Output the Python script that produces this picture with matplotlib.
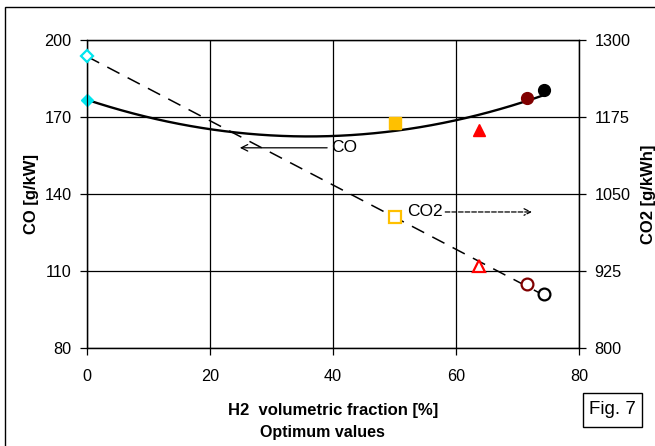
import numpy as np
import matplotlib.pyplot as plt
from matplotlib.patches import Rectangle

plt.rcParams['font.family'] = ['Liberation Sans', 'DejaVu Sans']
plt.rcParams['font.size'] = 11.7

# optimum values
h2 = [0, 50, 63.8, 71.5, 74.3]
co = [176.5, 167.7, 164.9, 177.4, 180.5]
co2 = [1274, 1013, 933, 904, 888]
colors = ['#00e5ee', '#ffc000', '#ff0000', '#800000', '#000000']
markers = ['D', 's', '^', 'o', 'o']

fig = plt.figure(figsize=(6.55, 4.46), dpi=100)
ax = fig.add_axes([0.1328, 0.2197, 0.7512, 0.6906])
ax2 = ax.twinx()

# trend lines
xs = np.linspace(0, max(h2), 200)
p_co = np.polyfit(h2, co, 2)
ax.plot(xs, np.polyval(p_co, xs), color='k', lw=1.7, zorder=3)
p_co2 = np.polyfit(h2, co2, 1)
ax2.plot(xs, np.polyval(p_co2, xs), color='k', lw=1.1, dashes=(9, 6), zorder=3)

sizes = {'D': 6.5, 's': 8.5, '^': 9, 'o': 8.5}
for x, y1, y2, c, m in zip(h2, co, co2, colors, markers):
    ax.plot(x, y1, marker=m, color=c, ms=sizes[m], ls='none', zorder=4,
            clip_on=False)
    ax2.plot(x, y2, marker=m, mfc='white', mec=c, mew=1.6, ms=sizes[m],
             ls='none', zorder=4, clip_on=False)

ax.set_xlim(0, 80)
ax.set_ylim(80, 200)
ax2.set_ylim(800, 1300)
ax.set_xticks([0, 20, 40, 60, 80])
ax.set_yticks([80, 110, 140, 170, 200])
ax2.set_yticks([800, 925, 1050, 1175, 1300])
ax.grid(True, color='k', lw=0.9)
for a in (ax, ax2):
    a.tick_params(direction='out', length=5, width=0.9, labelsize=11.7, pad=6)
    for s in a.spines.values():
        s.set_linewidth(0.9)
ax.tick_params(axis='x', pad=10)

ax.set_ylabel('CO [g/kW]', fontweight='bold', fontsize=12, labelpad=4)
ax2.set_ylabel('CO2 [g/kWh]', fontweight='bold', fontsize=12, labelpad=8)
ax.set_xlabel('H2  volumetric fraction [%]', fontweight='bold', fontsize=12,
              labelpad=14)
fig.text(0.493, 1 - 433 / 446, 'Optimum values', ha='center', va='center',
         fontweight='bold', fontsize=11.5)

# arrows / labels
ax.annotate('', xy=(24.4, 158), xytext=(39.5, 158),
            arrowprops=dict(arrowstyle='->', color='k', lw=0.9))
ax.text(39.7, 158, 'CO', ha='left', va='center', fontsize=12.5)
ax.text(52, 133, 'CO2', ha='left', va='center', fontsize=12.5)
ax.annotate('', xy=(72.8, 133), xytext=(57.8, 133),
            arrowprops=dict(arrowstyle='->', color='k', lw=0.9, ls='--'))

# outer frame and fig label
fig.patches.append(Rectangle((5 / 655, -0.05), 1.1, (446 - 7) / 446 + 0.05,
                             transform=fig.transFigure, fill=False, ec='k',
                             lw=1.0))
fig.patches.append(Rectangle((583 / 655, 1 - 427 / 446), 59 / 655, 34 / 446,
                             transform=fig.transFigure, fill=False, ec='k',
                             lw=1.0))
fig.text(612.5 / 655, 1 - 410 / 446, 'Fig. 7', ha='center', va='center',
         fontsize=13.5)

fig.savefig('out.png', dpi=100)
